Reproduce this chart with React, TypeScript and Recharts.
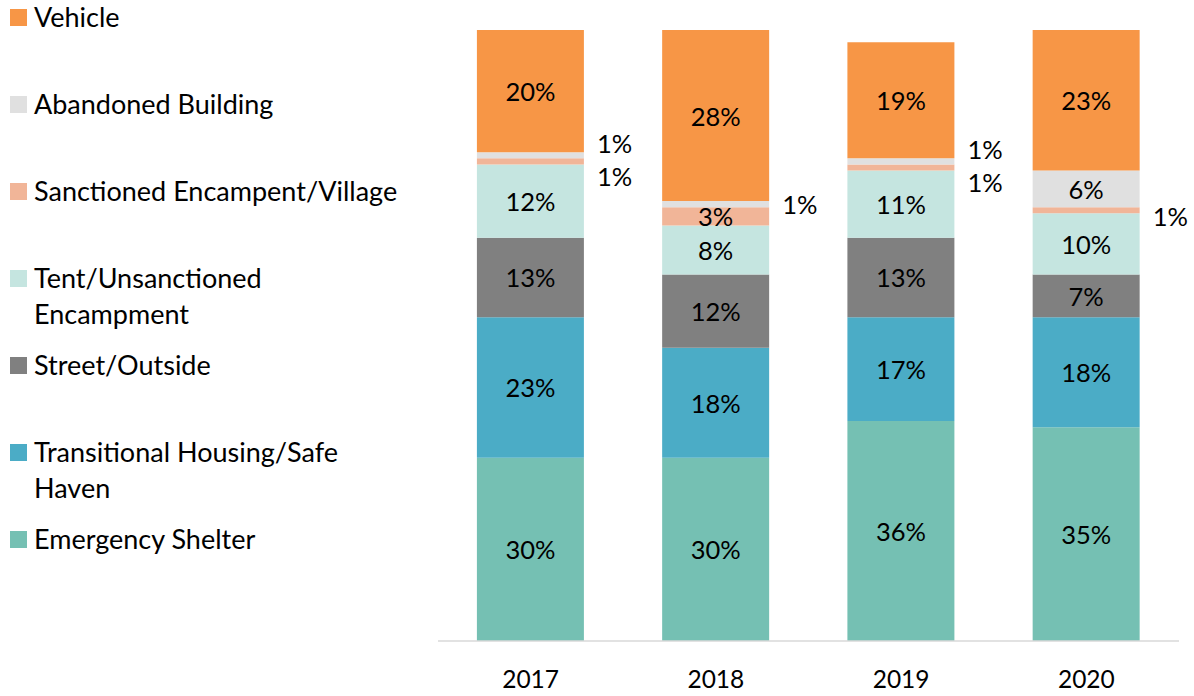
import React from "react";
import { Bar, BarChart, LabelList, Legend, XAxis, YAxis } from "recharts";

const years = ["2017", "2018", "2019", "2020"];

const emergencyShelter = [30, 30, 36, 35];
const transitionalHousing = [23, 18, 17, 18];
const streetOutside = [13, 12, 13, 7];
const tentUnsanctioned = [12, 8, 11, 10];
const sanctionedEncampment = [1, 3, 1, 1];
const abandonedBuilding = [1, 1, 1, 6];
const vehicle = [20, 28, 19, 23];

// bottom to top stacking order
const series = [
  { key: "es", name: "Emergency Shelter", lines: ["Emergency Shelter"], color: "#75C0B3", values: emergencyShelter },
  { key: "th", name: "Transitional Housing/Safe Haven", lines: ["Transitional Housing/Safe", "Haven"], color: "#4BACC6", values: transitionalHousing },
  { key: "st", name: "Street/Outside", lines: ["Street/Outside"], color: "#808080", values: streetOutside },
  { key: "tent", name: "Tent/Unsanctioned Encampment", lines: ["Tent/Unsanctioned", "Encampment"], color: "#C5E5E0", values: tentUnsanctioned },
  { key: "sanc", name: "Sanctioned Encampent/Village", lines: ["Sanctioned Encampent/Village"], color: "#F1B598", values: sanctionedEncampment },
  { key: "ab", name: "Abandoned Building", lines: ["Abandoned Building"], color: "#E0E0E0", values: abandonedBuilding },
  { key: "veh", name: "Vehicle", lines: ["Vehicle"], color: "#F79646", values: vehicle },
];

// legend first-line y centers, top to bottom
const legendRows = [17, 104, 191, 278, 365, 452, 539];

const data = years.map((year, i) => {
  const row: any = { year };
  series.forEach((s) => (row[s.key] = s.values[i]));
  return row;
});

const FONT = "Lato, 'Open Sans', sans-serif";

function LegendBox() {
  const items = [...series].reverse();
  return (
    <div style={{ position: "relative", width: 0, height: 0, fontFamily: FONT, fontSize: 27, color: "#000" }}>
      {items.map((s, i) => (
        <div key={s.key} style={{ position: "absolute", left: 0, top: legendRows[i] - 18, width: 420 }}>
          <div style={{ position: "absolute", left: 10, top: 10, width: 17, height: 17, background: s.color }} />
          {s.lines.map((ln, j) => (
            <div key={j} style={{ position: "absolute", left: 34, top: j * 36, lineHeight: "36px", whiteSpace: "nowrap" }}>
              {ln}
            </div>
          ))}
        </div>
      ))}
    </div>
  );
}

function makeLabel(key: string) {
  return (props: any) => {
    const { x, y, width, height, value, index } = props;
    if (!value) return null;
    const small = value <= 1;
    if (!small) {
      return (
        <text x={x + width / 2} y={y + height / 2} textAnchor="middle" dominantBaseline="central"
          fontFamily={FONT} fontSize={25.5} fill="#000">{`${value}%`}</text>
      );
    }
    const bothSmall = sanctionedEncampment[index] <= 1 && abandonedBuilding[index] <= 1;
    let dy = 0;
    if (bothSmall) dy = key === "ab" ? -12 : 15;
    else if (key === "sanc") dy = 6;
    return (
      <text x={x + width + 13} y={y + height / 2 + dy} textAnchor="start" dominantBaseline="central"
        fontFamily={FONT} fontSize={25.5} fill="#000">{`${value}%`}</text>
    );
  };
}

export default function App() {
  return (
    <div style={{ position: "absolute", left: 0, top: 0, background: "#fff" }}>
      <BarChart
        width={1194}
        height={696}
        data={data}
        margin={{ top: 30, right: 15, bottom: 0, left: 438 }}
        barCategoryGap="21%"
      >
        <XAxis
          dataKey="year"
          tickLine={false}
          axisLine={{ stroke: "#D9D9D9", strokeWidth: 1.5 }}
          tickSize={0}
          tickMargin={30}
          height={55}
          tick={{ fill: "#000", fontSize: 24.5, fontFamily: FONT }}
        />
        <YAxis hide domain={[0, 100]} />
        <Legend
          layout="vertical"
          align="left"
          verticalAlign="top"
          wrapperStyle={{ left: 0, top: 0 }}
          content={() => <LegendBox />}
        />
        {series.map((s) => (
          <Bar key={s.key} dataKey={s.key} name={s.name} stackId="a" fill={s.color} isAnimationActive={false}>
            <LabelList dataKey={s.key} content={makeLabel(s.key)} />
          </Bar>
        ))}
      </BarChart>
    </div>
  );
}
